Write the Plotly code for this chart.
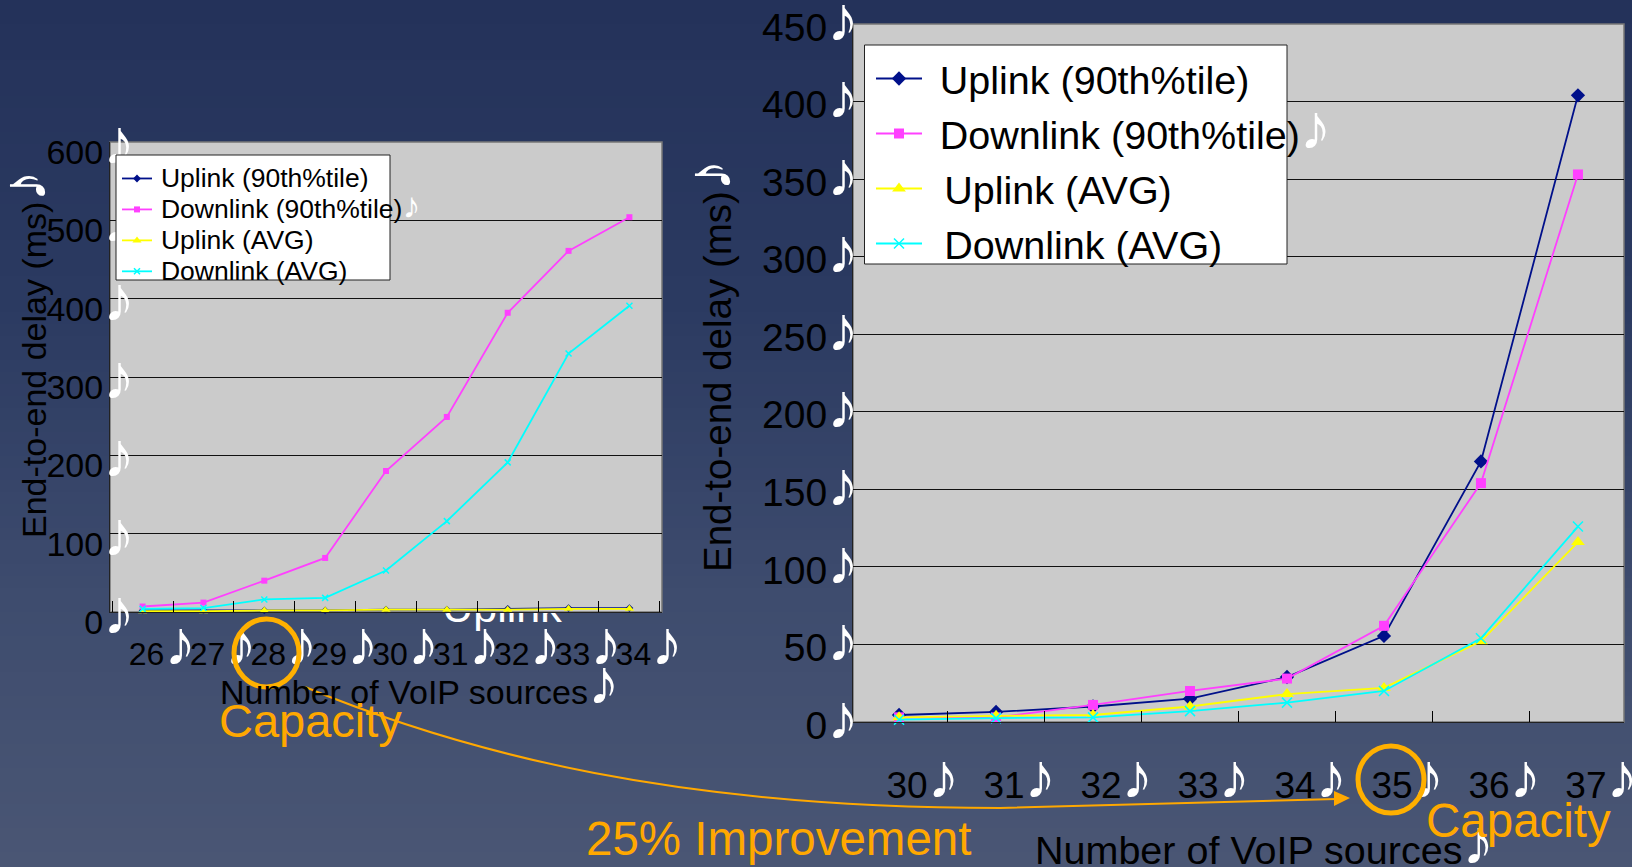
import plotly.graph_objects as go

W, H = 1632, 867
NOTE = '<span style="color:white;font-family:\'Liberation Sans\';font-size:{}px">♪</span>'
NOTE_SIZE = 64

sources_left = [26, 27, 28, 29, 30, 31, 32, 33, 34]
left_up90 = [2, 2, 2, 2, 3, 3, 4, 5, 5]
left_down90 = [7, 12, 40, 69, 180, 249, 382, 461, 504]
left_upavg = [1, 1, 2, 2, 3, 3, 3, 4, 4]
left_downavg = [4, 5, 16, 18, 53, 116, 191, 330, 391]
left_yticks = [0, 100, 200, 300, 400, 500, 600]

sources_right = [30, 31, 32, 33, 34, 35, 36, 37]
right_up90 = [4.5, 6.5, 10, 15, 29, 55.5, 168, 404]
right_down90 = [3, 3, 11, 20, 28, 62, 154, 353]
right_upavg = [3, 4, 4.5, 10, 18, 22, 52, 116]
right_downavg = [1.5, 2.5, 3, 7, 12.5, 20, 54, 126]
right_yticks = [0, 50, 100, 150, 200, 250, 300, 350, 400, 450]

series_names = ["Uplink (90th%tile)", "Downlink (90th%tile)", "Uplink (AVG)", "Downlink (AVG)"]
colors = ["#00108a", "#ff40ff", "#ffff00", "#00ffff"]
symbols = ["diamond", "square", "triangle-up", "x-thin"]
ORANGE = "#ffa800"


def px(x):
    return x / W


def py(y):
    return 1 - y / H


fig = go.Figure()


def add_series(values, cats, xa, ya, legend, msizes, name_fmt):
    for i, (v, n) in enumerate(zip(values, series_names)):
        fig.add_trace(go.Scatter(
            x=[str(c) for c in cats], y=v, xaxis=xa, yaxis=ya, legend=legend,
            mode="lines+markers", name=name_fmt(n, i), cliponaxis=False,
            line=dict(color=colors[i], width=1.8),
            marker=dict(symbol=symbols[i], size=msizes[i], color=colors[i],
                        line=dict(color=colors[i], width=1.5 if symbols[i] == "x-thin" else 0)),
        ))


def left_name(n, i):
    s = f'<span style="font-size:14px">&nbsp;</span><span style="font-size:26.5px">{n}</span>'
    if n == "Downlink (90th%tile)":
        s += NOTE.format(36)
    return s


def right_name(n, i):
    pad = 23 if i < 2 else 31
    s = f'<span style="font-size:{pad}px">&nbsp;&nbsp;</span><span style="font-size:39.5px">{n}</span>'
    if n == "Downlink (90th%tile)":
        s += NOTE.format(NOTE_SIZE)
    return s


add_series([left_up90, left_down90, left_upavg, left_downavg], sources_left, "x", "y", "legend", [6, 6, 8, 6], left_name)
add_series([right_up90, right_down90, right_upavg, right_downavg], sources_right, "x2", "y2", "legend2", [11, 10, 12, 10], right_name)

# background gradient
stops = [(0, (36, 50, 90)), (300, (43, 58, 97)), (600, (62, 76, 110)), (867, (74, 86, 116))]


def bg_color(y):
    for (y0, c0), (y1, c1) in zip(stops, stops[1:]):
        if y <= y1:
            t = (y - y0) / (y1 - y0)
            return "rgb(%d,%d,%d)" % tuple(round(a + (b - a) * t) for a, b in zip(c0, c1))
    return "rgb(74,86,116)"


shapes = []
step = 12
for y in range(0, H, step):
    shapes.append(dict(type="rect", xref="paper", yref="paper", x0=0, x1=1, y0=py(y), y1=py(y + step + 1),
                       fillcolor=bg_color(y + step / 2), line_width=0, layer="below"))

# white text hidden behind the left plot
shapes.append(dict(type="rect", xref="paper", yref="paper", x0=px(440), x1=px(564), y0=py(640), y1=py(565),
                   line_width=0, fillcolor="rgba(0,0,0,0)", layer="below",
                   label=dict(text="Uplink", font=dict(color="white", size=43, family="Liberation Sans"),
                              textposition="middle center")))

# plot areas
for x0, x1, y0, y1 in [(110, 662, 142, 612), (853, 1624, 24, 722)]:
    shapes.append(dict(type="rect", xref="paper", yref="paper", x0=px(x0), x1=px(x1), y0=py(y1), y1=py(y0),
                       fillcolor="#cbcbcb", line=dict(color="#777777", width=1.5), layer="below"))

# legend boxes: narrower than their text, which runs past the edge
for x0, x1, y0, y1 in [(116, 390, 155, 280), (864.5, 1287, 45, 264)]:
    shapes.append(dict(type="rect", xref="paper", yref="paper", x0=px(x0), x1=px(x1), y0=py(y1), y1=py(y0),
                       fillcolor="white", line=dict(color="#222222", width=1), layer="above"))

# capacity circles
for x0, x1, y0, y1 in [(234, 299, 619, 687), (1358, 1424, 746, 813)]:
    shapes.append(dict(type="circle", xref="paper", yref="paper", x0=px(x0), x1=px(x1), y0=py(y1), y1=py(y0),
                       line=dict(color="#ffb000", width=5), layer="above"))


def pth(cmds):
    out = []
    for c in cmds:
        if isinstance(c, str):
            out.append(c)
        else:
            out.append(f"{px(c[0]):.5f},{py(c[1]):.5f}")
    return " ".join(out)


shapes.append(dict(type="path", xref="paper", yref="paper", layer="above",
                   path=pth(["M", (305, 687), "C", (470, 755), (680, 808), (1000, 808), "L", (1336, 799)]),
                   line=dict(color=ORANGE, width=2)))
shapes.append(dict(type="path", xref="paper", yref="paper", layer="above",
                   path=pth(["M", (1334, 791), "L", (1350, 798), "L", (1334, 806), "Z"]),
                   fillcolor=ORANGE, line=dict(color=ORANGE, width=0)))


def txt(x, y, text, size, color="black", anchor="left", angle=0):
    return dict(x=px(x), y=py(y), xref="paper", yref="paper", text=text, showarrow=False, xanchor=anchor,
                yanchor="middle", textangle=angle, font=dict(size=size, color=color, family="Liberation Sans"))


annotations = [
    txt(24, 354, "End-to-end delay (ms)" + NOTE.format(NOTE_SIZE), 34, anchor="center", angle=-90),
    txt(709, 366, "End-to-end delay (ms)" + NOTE.format(NOTE_SIZE), 38.5, anchor="center", angle=-90),
    txt(218, 682, "Number of VoIP sources" + NOTE.format(NOTE_SIZE), 34),
    txt(1033, 842, "Number of VoIP sources" + NOTE.format(NOTE_SIZE), 39.5),
    txt(217, 720, "Capacity", 47, ORANGE),
    txt(1424, 820, "Capacity", 47.5, ORANGE),
    txt(584, 838, "25% Improvement", 47.5, ORANGE),
]


def ticks(vals):
    return [f"{v}" + NOTE.format(NOTE_SIZE) for v in vals]


base_font = dict(family="Liberation Sans", color="black")
fig.update_layout(
    width=W, height=H, margin=dict(l=0, r=0, t=0, b=0, pad=0, autoexpand=False), autosize=False,
    paper_bgcolor="#2b3a61", plot_bgcolor="rgba(0,0,0,0)",
    shapes=shapes, annotations=annotations,
    xaxis=dict(domain=[px(110), px(662)], anchor="y", type="category", tickson="boundaries",
               tickmode="array", tickvals=[str(c) for c in sources_left], ticktext=ticks(sources_left),
               ticks="inside", ticklen=11, tickcolor="black", showgrid=False, showline=True, linecolor="#222",
               tickangle=0, tickfont=dict(size=32, **base_font), ticklabelshift=20, ticklabelstandoff=14,
               ticklabeloverflow="allow"),
    yaxis=dict(domain=[py(612), py(142)], anchor="x", range=[0, 600], tickmode="array", tickvals=left_yticks,
               ticktext=ticks(left_yticks), ticks="", gridcolor="#111", gridwidth=1, showline=True, linecolor="#222",
               zeroline=False, tickfont=dict(size=34, **base_font), ticklabelstandoff=-33, ticklabelshift=10,
               ticklabeloverflow="allow"),
    xaxis2=dict(domain=[px(853), px(1624)], anchor="y2", type="category", tickson="boundaries",
                tickmode="array", tickvals=[str(c) for c in sources_right], ticktext=ticks(sources_right),
                ticks="inside", ticklen=11, tickcolor="black", showgrid=False, showline=True, linecolor="#222",
                tickangle=0, tickfont=dict(size=37, **base_font), ticklabelshift=24, ticklabelstandoff=31,
                ticklabeloverflow="allow"),
    yaxis2=dict(domain=[py(722), py(24)], anchor="x2", range=[0, 450], tickmode="array", tickvals=right_yticks,
                ticktext=ticks(right_yticks), ticks="", gridcolor="#111", gridwidth=1, showline=True, linecolor="#222",
                zeroline=False, tickfont=dict(size=39, **base_font), ticklabelstandoff=-15, ticklabelshift=3,
                ticklabeloverflow="allow"),
    legend=dict(x=px(117), y=py(158), xanchor="left", yanchor="top", bgcolor="rgba(0,0,0,0)", borderwidth=0,
                font=dict(size=21.5, **base_font), itemwidth=30, tracegroupgap=0,
                xref="paper", yref="paper", itemclick=False),
    legend2=dict(x=px(871), y=py(46), xanchor="left", yanchor="top", bgcolor="rgba(0,0,0,0)", borderwidth=0,
                 font=dict(size=40, **base_font), itemwidth=46, tracegroupgap=0,
                 xref="paper", yref="paper", itemclick=False),
    showlegend=True,
)

fig.write_html("out.html", config=dict(displayModeBar=False),
               post_script="document.body.style.margin='0';document.body.style.overflow='hidden';")
